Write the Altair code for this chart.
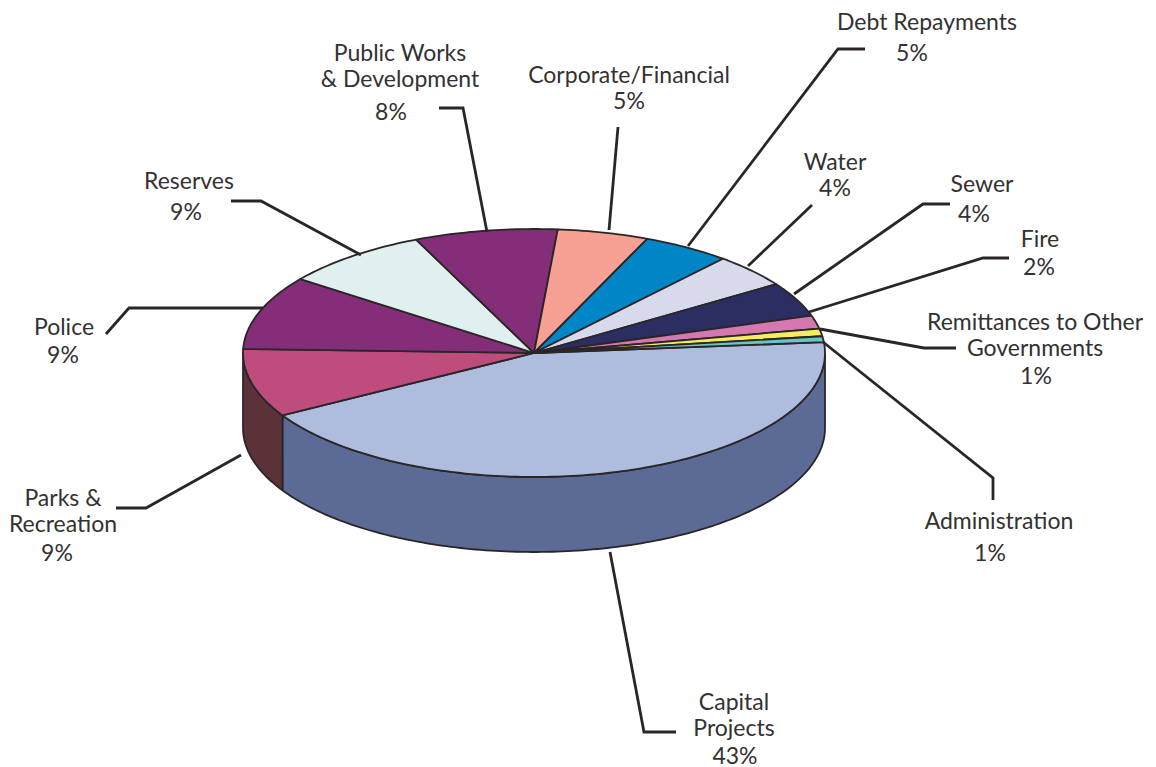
import math
import altair as alt
import pandas as pd

# Shares as read from the slice edges, clockwise from the Capital Projects slice
slices = ["Capital Projects", "Parks & Recreation", "Police", "Reserves",
          "Public Works & Development", "Corporate/Financial", "Debt Repayments",
          "Water", "Sewer", "Fire", "Remittances", "Administration"]
shares = [43, 8.9, 9.66, 8.19, 7.94, 5.06, 4.89, 4.39, 4.5, 1.7, 1.0, 0.77]
tops = ["#AEBCDE", "#BE4D7E", "#842D78", "#E0F0EE", "#842D78", "#F6A194",
        "#0085C6", "#D6DAEA", "#2C2E62", "#D678B0", "#F6EC60", "#66C8C6"]
side_names = ["Capital Projects side", "Parks side"]
side_colors = ["#5C6A96", "#5A3238"]

# Labels: text (lines split by \n), x, y of the first line
label_text = ["Debt Repayments", "5%", "Public Works\n& Development", "8%",
              "Corporate/Financial\n5%", "Water\n4%", "Sewer", "4%", "Fire", "2%",
              "Remittances to Other\nGovernments", "1%", "Administration", "1%",
              "Capital\nProjects", "43%", "Parks &\nRecreation", "9%",
              "Police", "9%", "Reserves", "9%"]
label_x = [927, 912, 400, 391, 629, 835, 982, 974, 1040, 1039,
           1035, 1036, 999, 990, 734, 735, 63, 57, 64, 63, 189, 186]
label_y = [23, 54, 54, 113, 76, 163, 185, 215, 240, 268,
           323, 377, 522, 554, 703, 757, 499, 554, 328, 356, 182, 213]

# Leader polylines
leaders = {
    "capital": ([610, 644, 676], [552, 732, 732]),
    "parks": ([241, 146, 116], [455, 508, 508]),
    "police": ([263, 129, 106], [308, 308, 334]),
    "reserves": ([361, 261, 231], [255, 201, 201]),
    "public": ([487, 463, 439], [232, 108, 108]),
    "corporate": ([609, 618], [230, 127]),
    "debt": ([688, 838, 865], [246, 49, 49]),
    "water": ([748, 812], [266, 205]),
    "sewer": ([794, 923, 950], [294, 204, 204]),
    "fire": ([809, 983, 1009], [312, 258, 258]),
    "remit": ([820, 924, 956], [329, 348, 348]),
    "admin": ([823, 993, 993], [342, 478, 500]),
}

CX, CY, RX, RY, DEPTH = 534, 353, 291, 124, 75
START = 5.0
W, H = 1140, 775
INK = "#2A2627"


def ell(t):
    r = math.radians(t)
    return CX + RX * math.cos(r), CY - RY * math.sin(r)


top_rows, side_rows = [], []
angle = START
for name, share in zip(slices, shares):
    a0, a1 = angle, angle - share * 3.6
    pts = [(CX, CY)]
    n = max(2, int(share * 3.6))
    pts += [ell(a0 + (a1 - a0) * i / n) for i in range(n + 1)]
    pts.append((CX, CY))
    for i, (x, y) in enumerate(pts):
        top_rows.append(dict(piece=name, x=x, y=y, o=i))
    angle = a1

a_cap_end = START - shares[0] * 3.6
for name, a0, a1 in [(side_names[0], 0.0, a_cap_end), (side_names[1], a_cap_end, -180.0)]:
    n = max(2, int(abs(a1 - a0)))
    arc = [ell(a0 + (a1 - a0) * i / n) for i in range(n + 1)]
    pts = arc + [(x, y + DEPTH) for x, y in reversed(arc)] + [arc[0]]
    for i, (x, y) in enumerate(pts):
        side_rows.append(dict(piece=name, x=x, y=y, o=i))

leader_rows = []
for k, (xs, ys) in leaders.items():
    for i, (x, y) in enumerate(zip(xs, ys)):
        leader_rows.append(dict(k=k, x=x, y=y, o=i))

xs = alt.Scale(domain=[8, 8 + W], range=[0, W], nice=False, zero=False)
ys = alt.Scale(domain=[8, 8 + H], range=[0, H], nice=False, zero=False)
X = alt.X("x:Q", scale=xs, axis=None)
Y = alt.Y("y:Q", scale=ys, axis=None)
fill = alt.Fill("piece:N", scale=alt.Scale(domain=slices + side_names, range=tops + side_colors), legend=None)


def faces(rows):
    return alt.Chart(pd.DataFrame(rows)).mark_line(
        stroke=INK, strokeWidth=1.8, strokeJoin="round", clip=False
    ).encode(x=X, y=Y, fill=fill, detail="piece:N", order="o:Q")


lead = alt.Chart(pd.DataFrame(leader_rows)).mark_line(
    color=INK, strokeWidth=2.8, strokeJoin="miter"
).encode(x=X, y=Y, detail="k:N", order="o:Q")

labels = alt.Chart(pd.DataFrame(dict(t=label_text, x=label_x, y=label_y))).mark_text(
    font="Lato", fontSize=23, color="#333132", align="center", baseline="middle",
    lineBreak="\n", lineHeight=25.5
).encode(x=X, y=Y, text="t:N")

chart = alt.layer(faces(side_rows), faces(top_rows), lead, labels).properties(
    width=W, height=H, padding=0, autosize=alt.AutoSizeParams(type="none"),
    background="white",
).configure_view(stroke=None)

chart.save("out.html", embed_options={"renderer": "svg", "actions": False})
